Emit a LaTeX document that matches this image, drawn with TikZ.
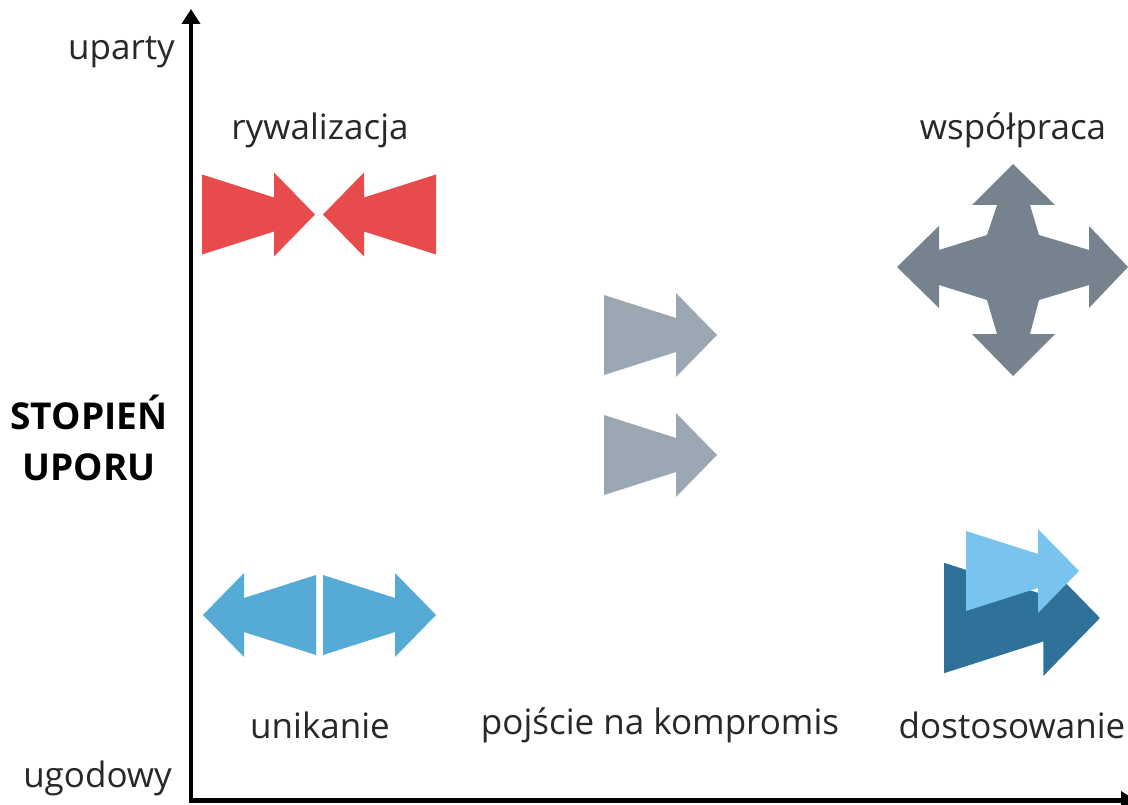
\documentclass[tikz,border=0pt]{standalone}
\usepackage{fontspec}
\setmainfont{Open Sans}
\usetikzlibrary{arrows.meta}
\definecolor{cred}{RGB}{232,75,75}
\definecolor{cgraydark}{RGB}{118,130,142}
\definecolor{cgray}{RGB}{155,167,179}
\definecolor{cblue}{RGB}{86,170,214}
\definecolor{clight}{RGB}{121,196,238}
\definecolor{cdark}{RGB}{46,114,154}
\definecolor{ctext}{RGB}{40,40,40}
\newcommand\fatarrow[5]{% tail x, center y, direction (1/-1), scale, colour
  \fill[#5, shift={(#1,#2)}, xscale=#3*#4, yscale=#4]
    (0,-40) -- (72,-17) -- (72,-42) -- (113,0) -- (72,42) -- (72,17) -- (0,40) -- cycle;}
\begin{document}
\begin{tikzpicture}[x=1pt,y=-1pt,
  lbl/.style={font=\fontsize{35}{40}\selectfont, text=ctext, inner sep=0pt},
  axis/.style={line width=4.5pt, -{Triangle[width=18pt,length=15pt]}}]
\useasboundingbox (0,0) rectangle (1128,805);
\fill[white] (0,0) rectangle (1128,805);
% axes
\coordinate (origin) at (191,800.5);
\coordinate (ytop) at (191,9);
\coordinate (xend) at (1136,800.5);
\draw[axis] (origin) -- (ytop);
\draw[axis] ([xshift=-2.25pt]origin) -- (xend);
% labels
\node[lbl, anchor=east] (uparty) at (175,52) {uparty};
\node[lbl, anchor=east] (ugodowy) at (172,778) {ugodowy};
\node[lbl] (ryw) at (320,130) {rywalizacja};
\node[lbl] (wsp) at (1013,130) {współpraca};
\node[lbl] (uni) at (320,725) {unikanie};
\node[lbl] (komp) at (660,725) {pojście na kompromis};
\node[lbl] (dost) at (1012,725) {dostosowanie};
\node[font=\fontsize{37}{51}\selectfont\bfseries, align=center, inner sep=0pt] (stop) at (89,438) {STOPIEŃ\\UPORU};
% rywalizacja
\fatarrow{202}{214.5}{1}{1}{cred}
\fatarrow{436}{214.5}{-1}{1}{cred}
% kompromis
\fatarrow{604}{335}{1}{1}{cgray}
\fatarrow{604}{455}{1}{1}{cgray}
% unikanie
\fatarrow{316}{615}{-1}{1}{cblue}
\fatarrow{323}{615}{1}{1}{cblue}
% dostosowanie
\fatarrow{944}{618}{1}{1.38}{cdark}
\fatarrow{966}{571}{1}{1}{clight}
% wspolpraca
\fill[cgraydark] (1013,164) -- (1055,205) -- (1030,205) -- (1039,235) -- (1089,250) -- (1089,226)
  -- (1128,267) -- (1089,308) -- (1089,285) -- (1039,300) -- (1030,334) -- (1055,334)
  -- (1013,376) -- (972,334) -- (997,334) -- (987,300) -- (939,285) -- (939,308)
  -- (897,267) -- (939,226) -- (939,250) -- (987,235) -- (997,205) -- (972,205) -- cycle;
\end{tikzpicture}
\end{document}
